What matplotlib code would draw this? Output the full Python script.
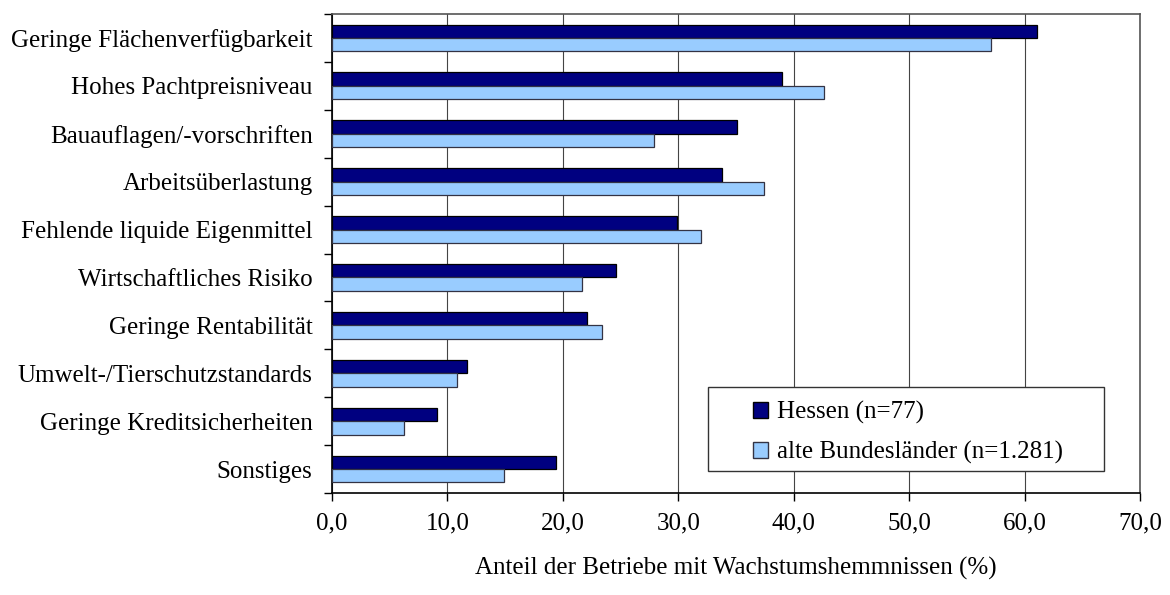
import numpy as np
import matplotlib.pyplot as plt
from matplotlib.patches import Patch, Rectangle

plt.rcParams['font.family'] = ['Liberation Serif', 'DejaVu Serif']

categories = [
    'Geringe Flächenverfügbarkeit',
    'Hohes Pachtpreisniveau',
    'Bauauflagen/-vorschriften',
    'Arbeitsüberlastung',
    'Fehlende liquide Eigenmittel',
    'Wirtschaftliches Risiko',
    'Geringe Rentabilität',
    'Umwelt-/Tierschutzstandards',
    'Geringe Kreditsicherheiten',
    'Sonstiges',
]
hessen = [61.1, 39.0, 35.1, 33.8, 29.9, 24.6, 22.1, 11.7, 9.1, 19.4]
alte_laender = [57.1, 42.6, 27.9, 37.4, 32.0, 21.7, 23.4, 10.8, 6.2, 14.9]
xticks = [0, 10, 20, 30, 40, 50, 60, 70]

dark = '#000080'
light = '#99CCFF'
fs = 18

W, H = 1170, 595
L, R, T, B = 332, 1140, 14, 493

fig = plt.figure(figsize=(W / 100, H / 100), dpi=100)
ax = fig.add_axes([L / W, 1 - B / H, (R - L) / W, (B - T) / H])


def px(x, y):
    # pixel position -> axes fraction
    return (x - L) / (R - L), (B - y) / (B - T)


y = np.arange(len(categories))
h = 0.28
ax.barh(y - h / 2, hessen, height=h, color=dark, edgecolor='black', linewidth=0.9, zorder=3)
ax.barh(y + h / 2, alte_laender, height=h, color=light, edgecolor='#333344', linewidth=0.9, zorder=3)

ax.set_ylim(len(categories) - 0.5, -0.5)
ax.set_yticks(y)
ax.set_yticklabels(categories, fontsize=fs)
ax.set_yticks(np.arange(len(categories) + 1) - 0.5, minor=True)
ax.tick_params(axis='y', which='major', length=0, pad=14)
ax.tick_params(axis='y', which='minor', length=6, width=1, direction='out')

ax.set_xlim(0, 70)
ax.set_xticks(xticks)
ax.set_xticklabels([f'{v:.1f}'.replace('.', ',') for v in xticks], fontsize=fs)
ax.tick_params(axis='x', length=6, width=1, direction='out', pad=8)
ax.xaxis.grid(True, color='#444444', linewidth=0.8, zorder=0)
ax.set_axisbelow(True)

ax.set_xlabel('Anteil der Betriebe mit Wachstumshemmnissen (%)', fontsize=fs, labelpad=16)

for side in ('left', 'bottom'):
    ax.spines[side].set_linewidth(1.2)
    ax.spines[side].set_color('black')
for side in ('top', 'right'):
    ax.spines[side].set_linewidth(1.2)
    ax.spines[side].set_color('#555555')

# legend frame
x0, y0 = px(708, 471)
x1, y1 = px(1104, 387)
ax.add_patch(Rectangle((x0, y0), x1 - x0, y1 - y0, transform=ax.transAxes,
                       facecolor='white', edgecolor='#333333', linewidth=1.0, zorder=5))

handles = [
    Patch(facecolor=dark, edgecolor='black', label='Hessen (n=77)'),
    Patch(facecolor=light, edgecolor='#333344', label='alte Bundesländer (n=1.281)'),
]
leg = ax.legend(handles=handles, loc='upper left', bbox_to_anchor=px(753, 401),
                fontsize=fs, frameon=False,
                handlelength=0.6, handleheight=0.6, handletextpad=0.36,
                borderpad=0, labelspacing=0.67, borderaxespad=0)
leg.set_zorder(6)

fig.savefig('out.png', dpi=100)
